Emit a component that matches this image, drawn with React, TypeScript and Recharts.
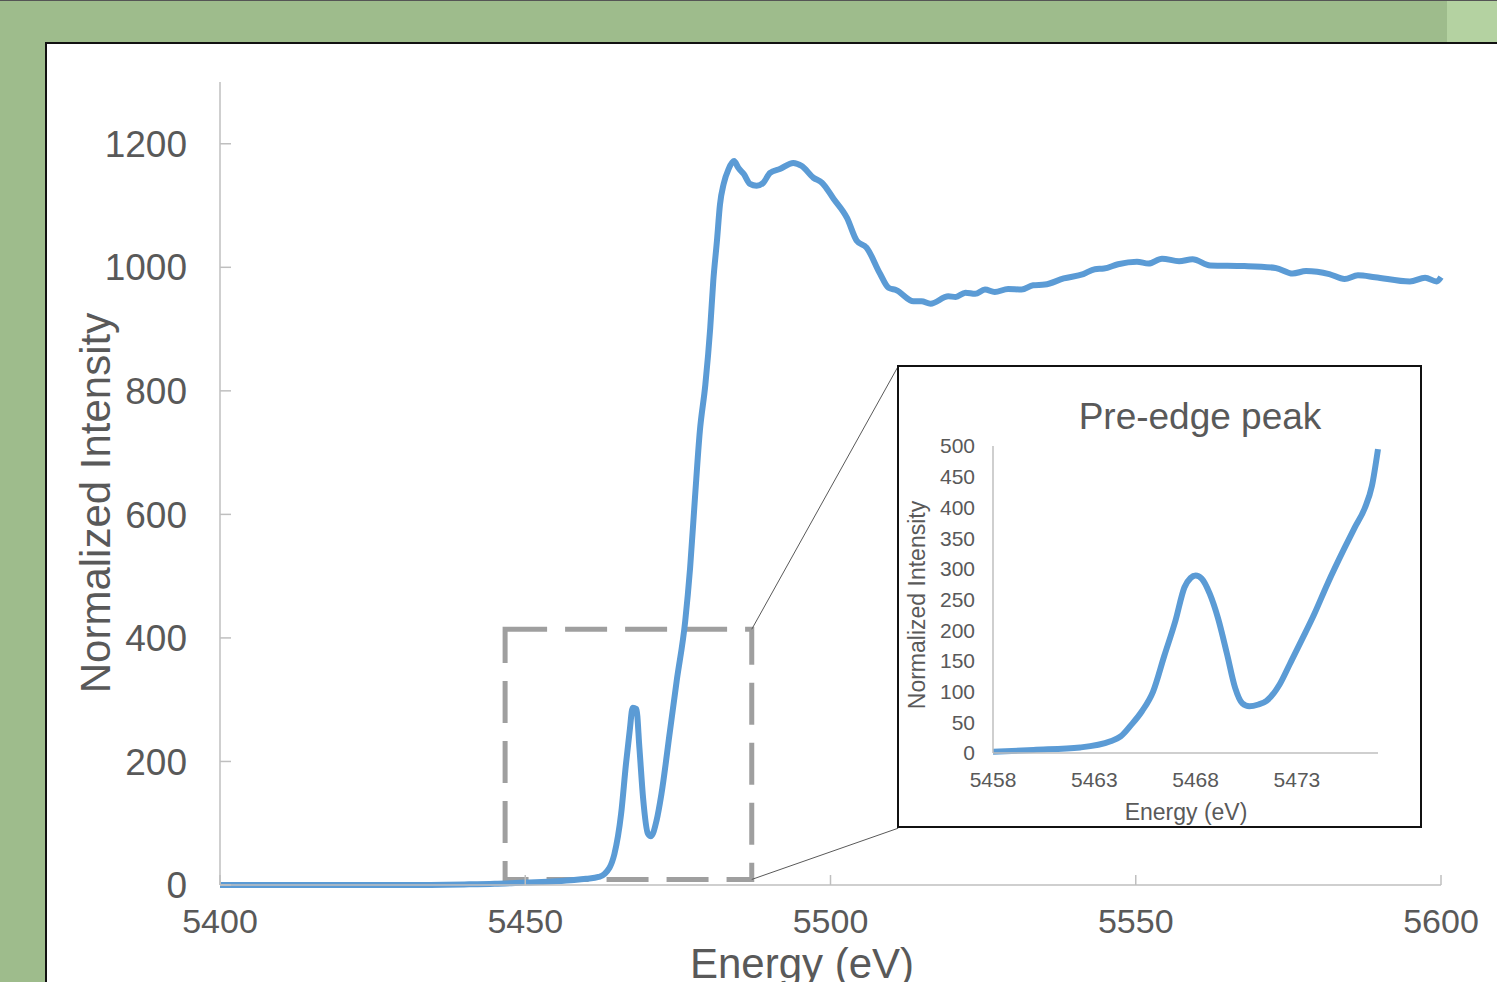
import React from "react";
import { LineChart, Line, XAxis, YAxis, ReferenceArea, ReferenceLine } from "recharts";

// full XANES scan (eV, normalized intensity)
const energy = [
  5400, 5410, 5420, 5430, 5440, 5445, 5450, 5455, 5458, 5460, 5462, 5463,
  5464.6, 5465.7, 5466.5, 5467.1, 5467.6, 5468.2, 5468.7, 5469.3, 5470.1, 5470.6,
  5471.5, 5472.3, 5473.7, 5474.8, 5476.2, 5477.0, 5477.8, 5478.6, 5479.5, 5480.3,
  5480.8, 5481.4, 5481.9, 5482.5, 5483.3, 5484.2, 5484.9, 5485.8, 5486.8, 5487.9,
  5489.0, 5490.1, 5491.7, 5493.9, 5495.3, 5497.2, 5498.6, 5500.5, 5502.7, 5504.3,
  5505.9, 5508.1, 5509.5, 5510.8, 5513.6, 5514.9, 5516.4, 5519.3, 5520.5, 5522.1,
  5523.7, 5525.3, 5526.9, 5529.1, 5531.3, 5533.2, 5535.1, 5538.2, 5541.4, 5543.3,
  5544.8, 5547.1, 5550.2, 5552.1, 5554.3, 5557.1, 5559.3, 5562.2, 5567.8, 5572.9,
  5575.7, 5577.9, 5581.7, 5584.2, 5586.4, 5589.2, 5594.9, 5597.4, 5599.3, 5600,
];
const intensity = [
  0, 0, 0, 0, 1, 2, 4, 6, 8, 10, 13, 18,
  50, 115, 196, 249, 287, 285, 222, 141, 83, 79,
  104, 147, 249, 330, 427, 513, 627, 735, 810, 902,
  978, 1043, 1102, 1135, 1159, 1172, 1161, 1151, 1135, 1132,
  1137, 1153, 1159, 1169, 1164, 1145, 1137, 1111, 1080, 1043,
  1032, 990, 967, 963, 945, 945, 941, 953, 952, 959,
  957, 964, 960, 965, 964, 971, 972, 982, 989, 997,
  998, 1005, 1009, 1006, 1014, 1010, 1013, 1003, 1002, 999,
  990, 994, 989, 981, 987, 984, 977, 983, 977, 984,
];

// zoom on the pre-edge region
const preEdgeEnergy = [
  5458, 5460, 5462.3, 5463.8, 5464.3, 5464.8, 5465.35, 5465.9, 5466.45, 5467,
  5467.45, 5467.75, 5468, 5468.3, 5468.7, 5469.1, 5469.55, 5469.95, 5470.3, 5470.65,
  5471.1, 5471.5, 5472.15, 5472.65, 5473.25, 5473.85, 5474.5, 5475.35, 5475.85, 5476.35,
  5476.7, 5477,
];
const preEdgeIntensity = [
  2, 5, 9, 19, 27, 45, 68, 100, 158, 215,
  270, 285, 289, 284, 259, 220, 161, 106, 81, 76,
  79, 85, 112, 145, 185, 226, 275, 334, 367, 399,
  435, 495,
];

const mainXTicks = [5400, 5450, 5500, 5550, 5600];
const mainYTicks = [0, 200, 400, 600, 800, 1000, 1200];
const insetXTicks = [5458, 5463, 5468, 5473];
const insetYTicks = [0, 50, 100, 150, 200, 250, 300, 350, 400, 450, 500];

const mainData = energy.map((e, i) => ({ energy: e, intensity: intensity[i] }));
const insetData = preEdgeEnergy.map((e, i) => ({ energy: e, intensity: preEdgeIntensity[i] }));

const FONT = "'Liberation Sans', Arial, sans-serif";
const TEXT = "#595959";
const AXIS = "#bfbfbf";
const BLUE = "#5b9bd5";

// ticks point inward like excel "inside" tick marks
const MainXTick = ({ x, y, payload }: any) => (
  <g>
    <line x1={x} x2={x} y1={y - 24} y2={y - 34} stroke={AXIS} strokeWidth={1.5} />
    <text x={x} y={y} dy="0.71em" textAnchor="middle" fill={TEXT} fontSize={34} fontFamily={FONT}>
      {payload.value}
    </text>
  </g>
);

const MainYTick = ({ x, y, payload }: any) => (
  <g>
    <line x1={x + 33} x2={x + 44} y1={y} y2={y} stroke={AXIS} strokeWidth={1.5} />
    <text x={x} y={y} dy="0.355em" textAnchor="end" fill={TEXT} fontSize={37} fontFamily={FONT}>
      {payload.value}
    </text>
  </g>
);

const InsetXTick = ({ x, y, payload }: any) => (
  <text x={x} y={y} dy="0.71em" textAnchor="middle" fill={TEXT} fontSize={21} fontFamily={FONT}>
    {payload.value}
  </text>
);

const InsetYTick = ({ x, y, payload }: any) => (
  <text x={x} y={y} dy="0.355em" textAnchor="end" fill={TEXT} fontSize={21} fontFamily={FONT}>
    {payload.value}
  </text>
);

export default function App() {
  return (
    <div
      style={{
        position: "fixed",
        left: 0,
        top: 0,
        width: 1497,
        height: 982,
        overflow: "hidden",
        background: "#9ebc8c",
        borderTop: "1px solid #555",
        boxSizing: "border-box",
        fontFamily: FONT,
      }}
    >
      <div style={{ position: "absolute", left: 1447, top: 0, width: 60, height: 42, background: "#b4d2a1" }} />
      <div
        style={{
          position: "absolute",
          left: 45,
          top: 41,
          width: 1470,
          height: 960,
          background: "#fff",
          borderLeft: "2px solid #111",
          borderTop: "2px solid #111",
        }}
      />

      <div style={{ position: "absolute", left: 0, top: 0 }}>
        <LineChart width={1497} height={982} data={mainData} margin={{ top: 81, right: 56, bottom: 38, left: 100 }}>
          <XAxis
            type="number"
            dataKey="energy"
            domain={[5400, 5600]}
            ticks={mainXTicks}
            interval={0}
            height={60}
            axisLine={{ stroke: AXIS, strokeWidth: 1.5 }}
            tickLine={false}
            tickSize={0}
            tickMargin={24}
            tick={(p: any) => <MainXTick {...p} />}
          />
          <YAxis
            type="number"
            domain={[0, 1300]}
            ticks={mainYTicks}
            interval={0}
            width={120}
            axisLine={{ stroke: AXIS, strokeWidth: 1.5 }}
            tickLine={false}
            tickSize={0}
            tickMargin={33}
            tick={(p: any) => <MainYTick {...p} />}
          />
          <Line
            type="monotone"
            dataKey="intensity"
            stroke={BLUE}
            strokeWidth={6}
            dot={false}
            strokeLinejoin="round"
            isAnimationActive={false}
          />
          <ReferenceArea
            x1={5446.7}
            x2={5487.1}
            y1={9}
            y2={414}
            fill="none"
            stroke="#7f7f7f"
            strokeOpacity={0.75}
            strokeWidth={5}
            strokeDasharray="42 18"
            ifOverflow="visible"
          />
          <ReferenceLine
            segment={[{ x: 5487.1, y: 414 }, { x: 5511.1, y: 840 }]}
            stroke={TEXT}
            strokeWidth={1}
            ifOverflow="visible"
          />
          <ReferenceLine
            segment={[{ x: 5487.1, y: 9 }, { x: 5511.1, y: 92 }]}
            stroke={TEXT}
            strokeWidth={1}
            ifOverflow="visible"
          />
        </LineChart>
      </div>

      <div
        style={{
          position: "absolute",
          left: 96 - 300,
          top: 502 - 21,
          width: 600,
          lineHeight: "42px",
          fontSize: 42,
          color: TEXT,
          textAlign: "center",
          transform: "rotate(-90deg)",
          whiteSpace: "nowrap",
        }}
      >
        Normalized Intensity
      </div>
      <div
        style={{
          position: "absolute",
          left: 802 - 300,
          top: 942,
          width: 600,
          lineHeight: "42px",
          fontSize: 42,
          color: TEXT,
          textAlign: "center",
          whiteSpace: "nowrap",
        }}
      >
        Energy (eV)
      </div>

      {/* pre-edge inset */}
      <div
        style={{
          position: "absolute",
          left: 897,
          top: 364,
          width: 525,
          height: 463,
          boxSizing: "border-box",
          border: "2px solid #111",
          background: "#fff",
        }}
      />
      <div style={{ position: "absolute", left: 897, top: 364 }}>
        <LineChart width={525} height={463} data={insetData} margin={{ top: 81, right: 44, bottom: 35, left: 46 }}>
          <XAxis
            type="number"
            dataKey="energy"
            domain={[5458, 5477]}
            ticks={insetXTicks}
            interval={0}
            height={40}
            axisLine={{ stroke: AXIS, strokeWidth: 1.5 }}
            tickLine={false}
            tickSize={0}
            tickMargin={19}
            tick={(p: any) => <InsetXTick {...p} />}
          />
          <YAxis
            type="number"
            domain={[0, 500]}
            ticks={insetYTicks}
            interval={0}
            width={50}
            axisLine={{ stroke: AXIS, strokeWidth: 1.5 }}
            tickLine={false}
            tickSize={0}
            tickMargin={18}
            tick={(p: any) => <InsetYTick {...p} />}
          />
          <Line
            type="monotone"
            dataKey="intensity"
            stroke={BLUE}
            strokeWidth={6}
            dot={false}
            isAnimationActive={false}
          />
        </LineChart>
      </div>
      <div
        style={{
          position: "absolute",
          left: 1200 - 200,
          top: 397,
          width: 400,
          lineHeight: "37px",
          fontSize: 37,
          color: TEXT,
          textAlign: "center",
          whiteSpace: "nowrap",
        }}
      >
        Pre-edge peak
      </div>
      <div
        style={{
          position: "absolute",
          left: 917 - 150,
          top: 604 - 12,
          width: 300,
          lineHeight: "24px",
          fontSize: 23,
          color: TEXT,
          textAlign: "center",
          transform: "rotate(-90deg)",
          whiteSpace: "nowrap",
        }}
      >
        Normalized Intensity
      </div>
      <div
        style={{
          position: "absolute",
          left: 1186 - 100,
          top: 799,
          width: 200,
          lineHeight: "24px",
          fontSize: 23,
          color: TEXT,
          textAlign: "center",
          whiteSpace: "nowrap",
        }}
      >
        Energy (eV)
      </div>
    </div>
  );
}
